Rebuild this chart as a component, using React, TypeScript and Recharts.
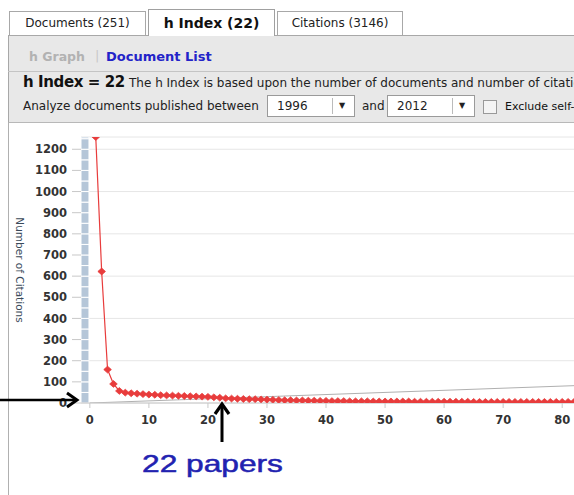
import React from 'react';
import { LineChart, Line, XAxis, YAxis, CartesianGrid, ReferenceArea, ReferenceLine } from 'recharts';

// citations per document, sorted high to low (rank = position + 1)
const citations = [
  1258, 622, 158, 90, 57, 49, 46, 44, 42, 40,
  39, 37, 36, 35, 34, 33, 32, 31, 30, 29,
  27, 25, 22, 21, 20, 19, 18, 18, 17, 16,
  15, 14, 13, 13, 12, 12, 11, 11, 10, 10,
  9, 9, 9, 8, 8, 8, 8, 7, 7, 7,
  7, 7, 7, 7, 6, 6, 6, 6, 6, 6,
  6, 6, 6, 6, 5, 5, 5, 5, 5, 5,
  5, 5, 5, 5, 5, 5, 5, 5, 5, 5, 5, 5,
];
const xTicks = [0, 10, 20, 30, 40, 50, 60, 70, 80];
const yTicks = [0, 100, 200, 300, 400, 500, 600, 700, 800, 900, 1000, 1100, 1200];
const tabs = ['Documents (251)', 'h Index (22)', 'Citations (3146)'];
const yearFrom = '1996';
const yearTo = '2012';
const hIndex = 22;

const data = citations.map((c, i) => ({ rank: i + 1, citations: c }));

const FONT = '"DejaVu Sans", Verdana, sans-serif';
const RED = '#e83c3c';

// stacked light-blue column on the left edge of the plot, split every 50
const colTop = citations[0];
const colSegments: [number, number][] = [];
for (let v = 0; v < colTop; v += 50) colSegments.push([v, Math.min(v + 50, colTop)]);

function Diamond(props: any) {
  const { cx, cy } = props;
  if (cx == null || cy == null) return null;
  return (
    <path
      d={`M${cx},${cy - 3.4} L${cx + 3.8},${cy} L${cx},${cy + 3.4} L${cx - 3.8},${cy} Z`}
      fill={RED}
      stroke={RED}
      strokeWidth={0.8}
    />
  );
}

const abs = (left: number, top: number, extra: React.CSSProperties = {}): React.CSSProperties => ({
  position: 'absolute',
  left,
  top,
  ...extra,
});

function Select({ left, value }: { left: number; value: string }) {
  return (
    <div
      style={abs(left, 95, {
        width: 88,
        height: 22,
        background: '#fff',
        border: '1px solid #9a9a9a',
        boxSizing: 'border-box',
      })}
    >
      <span style={abs(9, 3, { fontSize: 12, color: '#222' })}>{value}</span>
      <div style={abs(64, 2, { width: 1, height: 16, background: '#bbb' })} />
      <span style={abs(71, 5, { fontSize: 8, color: '#222' })}>▼</span>
    </div>
  );
}

export default function App() {
  return (
    <div
      style={{
        position: 'absolute',
        left: 0,
        top: 0,
        width: 574,
        height: 495,
        overflow: 'hidden',
        background: '#fff',
        fontFamily: FONT,
      }}
    >
      {/* tabs */}
      <div style={abs(9, 11, { width: 137, height: 25, border: '1px solid #a8a8a8', boxSizing: 'border-box', background: '#fff', fontSize: 12, color: '#222', textAlign: 'center', lineHeight: '23px' })}>
        {tabs[0]}
      </div>
      <div style={abs(277, 11, { width: 126, height: 25, border: '1px solid #a8a8a8', boxSizing: 'border-box', background: '#fff', fontSize: 12, color: '#222', textAlign: 'center', lineHeight: '23px' })}>
        {tabs[2]}
      </div>

      {/* grey panel */}
      <div style={abs(8, 35, { width: 600, height: 88, background: '#e8e8e8', borderTop: '1px solid #a8a8a8', borderLeft: '1px solid #a8a8a8', borderBottom: '1px solid #b8b8b8', boxSizing: 'border-box' })} />
      <div style={abs(148, 9, { width: 127, height: 27, border: '1px solid #a0a0a0', borderBottom: 'none', boxSizing: 'border-box', background: '#fff', fontSize: 14, fontWeight: 'bold', color: '#111', textAlign: 'center', lineHeight: '26px' })}>
        {tabs[1]}
      </div>
      <span style={abs(29, 49, { fontSize: 12.5, fontWeight: 'bold', color: '#b2b2b2' })}>h Graph</span>
      <span style={abs(95, 48, { fontSize: 13, color: '#c8c8c8' })}>|</span>
      <span style={abs(106, 49, { fontSize: 13, fontWeight: 'bold', color: '#2323c8' })}>Document List</span>
      <div style={abs(8, 71, { width: 600, height: 1, background: '#c4c4c4' })} />

      <span style={abs(23, 73, { fontSize: 15, fontWeight: 'bold', color: '#111', letterSpacing: -0.4, whiteSpace: 'nowrap' })}>
        h Index = {hIndex}
      </span>
      <span style={abs(129, 76, { fontSize: 12, color: '#222', whiteSpace: 'nowrap' })}>
        The h Index is based upon the number of documents and number of citations
      </span>
      <span style={abs(23, 99, { fontSize: 12, color: '#222', whiteSpace: 'nowrap' })}>
        Analyze documents published between
      </span>
      <Select left={267} value={yearFrom} />
      <span style={abs(362, 99, { fontSize: 12, color: '#222' })}>and</span>
      <Select left={387} value={yearTo} />
      <div style={abs(483, 100, { width: 14, height: 14, border: '1px solid #999', background: '#f4f4f4', boxSizing: 'border-box' })} />
      <span style={abs(505, 100, { fontSize: 11, color: '#111', whiteSpace: 'nowrap' })}>Exclude self-citations</span>

      {/* left frame line of the chart area */}
      <div style={abs(8, 122, { width: 1, height: 373, background: '#b0b0b0' })} />

      {/* chart */}
      <div style={abs(8, 123)}>
        <LineChart width={566} height={372} data={data} margin={{ top: 14, right: 0, bottom: 62, left: 0 }}>
          <CartesianGrid vertical={false} stroke="#e6e6e6" />
          <XAxis
            dataKey="rank"
            type="number"
            domain={[-1.5, 82]}
            ticks={xTicks}
            allowDataOverflow
            height={30}
            stroke="#c8c8c8"
            tickSize={5}
            tickMargin={8}
            tick={{ fontSize: 11.5, fontWeight: 'bold', fill: '#333', fontFamily: FONT }}
          />
          <YAxis
            type="number"
            domain={[0, colTop]}
            ticks={yTicks}
            allowDataOverflow
            width={73}
            axisLine={false}
            tickSize={9}
            tickMargin={5}
            tickLine={{ stroke: '#c8c8c8' }}
            tick={{ fontSize: 11.5, fontWeight: 'bold', fill: '#333', fontFamily: FONT }}
            label={{
              value: 'Number of Citations',
              angle: 90,
              position: 'center',
              dx: -25,
              style: { fontSize: 10.5, fill: '#3a4a5a', fontFamily: FONT },
            }}
          />
          {colSegments.map(([y1, y2]) => (
            <ReferenceArea
              key={y1}
              x1={-1.5}
              x2={-0.15}
              y1={y1}
              y2={y2}
              fill="#b5c6d8"
              fillOpacity={1}
              stroke="#ffffff"
              strokeWidth={1}
              ifOverflow="hidden"
            />
          ))}
          <ReferenceLine
            segment={[{ x: 0, y: 0 }, { x: 82, y: 82 }]}
            stroke="#b0b0b0"
            strokeWidth={1}
            ifOverflow="hidden"
          />
          <Line
            dataKey="citations"
            stroke={RED}
            strokeWidth={1.2}
            dot={<Diamond />}
            activeDot={false}
            isAnimationActive={false}
          />
        </LineChart>
      </div>

      {/* annotations */}
      <svg width={574} height={495} style={{ position: 'absolute', left: 0, top: 0, pointerEvents: 'none' }}>
        <line x1={0} y1={400} x2={75} y2={400} stroke="#000" strokeWidth={2.5} />
        <polyline points="67,393 77,400 67,407" fill="none" stroke="#000" strokeWidth={3} />
        <line x1={222} y1={442} x2={222} y2={406} stroke="#000" strokeWidth={3} />
        <polyline points="215,414 222,404 229,414" fill="none" stroke="#000" strokeWidth={3.2} />
        <text
          x={142}
          y={472}
          fontSize={24}
          fill="#2222b0"
          stroke="#2222b0"
          strokeWidth={0.5}
          fontFamily='"Liberation Sans", Arial, sans-serif'
          textLength={141}
          lengthAdjust="spacingAndGlyphs"
        >
          {hIndex} papers
        </text>
      </svg>
    </div>
  );
}
